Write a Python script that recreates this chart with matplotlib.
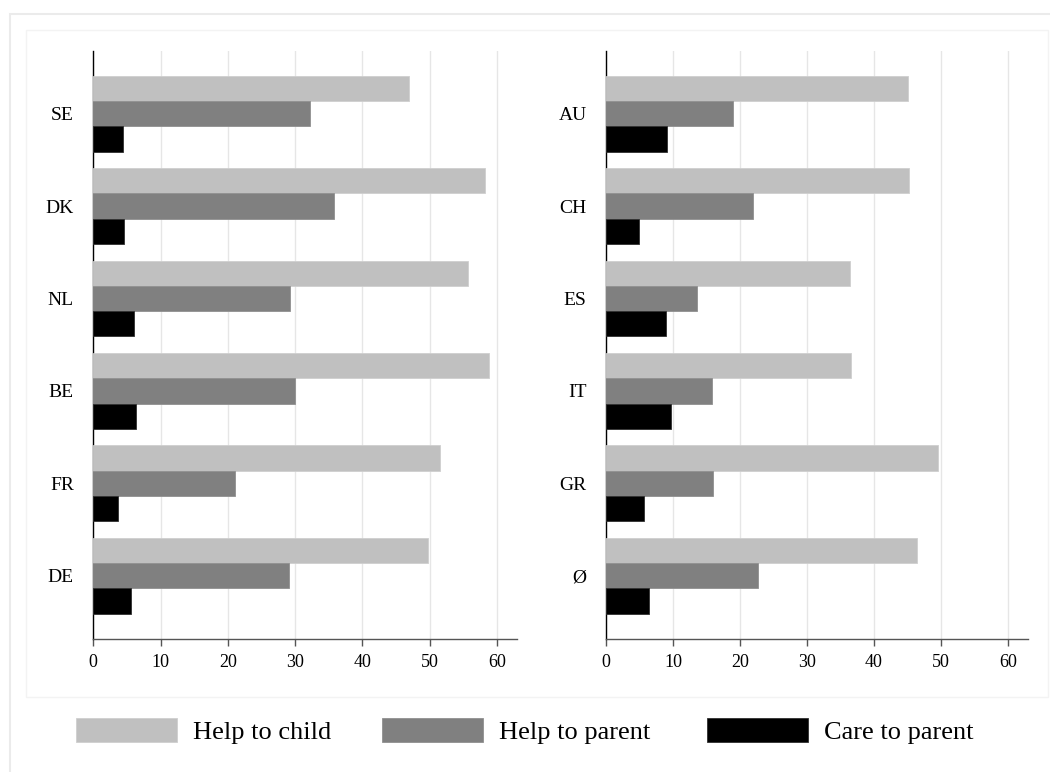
import matplotlib
matplotlib.use("Agg")
import matplotlib.pyplot as plt
from matplotlib.patches import Rectangle, Patch
import numpy as np

plt.rcParams['font.family'] = ['Liberation Serif', 'DejaVu Serif']

series = ["Help to child", "Help to parent", "Care to parent"]
colors = ["#c0c0c0", "#808080", "#000000"]
edgecolors = ["#cfcfcf", "#909090", "#303030"]

left_countries = ["SE", "DK", "NL", "BE", "FR", "DE"]
left_help_child = [47.0, 58.3, 55.7, 58.8, 51.5, 49.7]
left_help_parent = [32.2, 35.8, 29.2, 30.0, 21.1, 29.1]
left_care_parent = [4.4, 4.5, 6.1, 6.3, 3.6, 5.6]

right_countries = ["AU", "CH", "ES", "IT", "GR", "Ø"]
right_help_child = [45.1, 45.3, 36.5, 36.6, 49.6, 46.4]
right_help_parent = [19.0, 21.9, 13.6, 15.8, 15.9, 22.7]
right_care_parent = [9.1, 5.0, 9.0, 9.7, 5.6, 6.4]

xticks = [0, 10, 20, 30, 40, 50, 60]

W, H = 1050, 772
fig = plt.figure(figsize=(W / 100, H / 100), dpi=100)
fig.patch.set_facecolor("white")

def px_rect(x0, y0, x1, y1):
    return [x0 / W, 1 - y1 / H, (x1 - x0) / W, (y1 - y0) / H]

# decorative frames
fig.add_artist(Rectangle((9.5 / W, -0.1), 1.2, 1 - 13.5 / H + 0.1, transform=fig.transFigure,
                         fill=False, edgecolor="#ebebeb", linewidth=1.5))
fig.add_artist(Rectangle((25.5 / W, 1 - 697 / H), (1048 - 25.5) / W, (697 - 30) / H,
                         transform=fig.transFigure, fill=False, edgecolor="#f3f3f3", linewidth=1))

ax1 = fig.add_axes(px_rect(93.3, 51, 517, 639))
ax2 = fig.add_axes(px_rect(606, 51, 1028, 639))

bh = 0.274

def draw(ax, countries, a, b, c):
    y = np.arange(len(countries))
    for off, vals, col, ec in zip([-bh, 0, bh], [a, b, c], colors, edgecolors):
        ax.barh(y + off, vals, height=bh, color=col, edgecolor=ec, linewidth=0.6, zorder=3)
    ax.set_ylim(len(countries) - 1 + 0.685, -0.679)
    ax.set_xlim(0, 63)
    ax.set_yticks(y)
    ax.set_yticklabels(countries)
    ax.set_xticks(xticks)
    ax.set_xticklabels([str(t) for t in xticks])
    ax.tick_params(axis='y', length=0, pad=14, labelsize=14)
    ax.tick_params(axis='x', length=5, width=1, color="#555555", pad=6, labelsize=13)
    ax.grid(axis='x', color="#e6e6e6", linewidth=1, zorder=0)
    ax.set_axisbelow(True)
    for s in ["top", "right"]:
        ax.spines[s].set_visible(False)
    ax.spines["left"].set_color("black")
    ax.spines["left"].set_linewidth(1)
    ax.spines["bottom"].set_color("#555555")
    ax.spines["bottom"].set_linewidth(1)

draw(ax1, left_countries, left_help_child, left_help_parent, left_care_parent)
draw(ax2, right_countries, right_help_child, right_help_parent, right_care_parent)

legend_x = [76, 382, 707]
for lab, c, e, lx in zip(series, colors, edgecolors, legend_x):
    h = Patch(facecolor=c, edgecolor=e, linewidth=0.6)
    fig.legend([h], [lab], loc="center left", bbox_to_anchor=(lx / W, 1 - 731.3 / H),
               frameon=False, fontsize=19, handlelength=3.83, handleheight=1.02,
               handletextpad=0.6, borderaxespad=0, borderpad=0)

fig.savefig("out.png", dpi=100, facecolor="white")
